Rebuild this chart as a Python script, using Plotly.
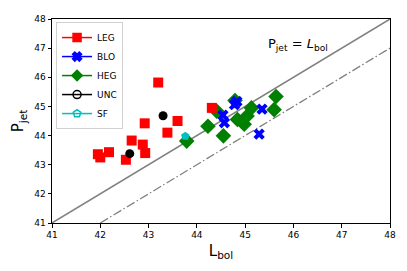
import plotly.graph_objects as go

leg_x = [43.20, 43.60, 42.92, 43.39, 42.65, 42.88, 42.18, 42.93, 41.95, 42.00, 42.53, 44.31]
leg_y = [45.82, 44.50, 44.42, 44.10, 43.83, 43.69, 43.43, 43.40, 43.36, 43.25, 43.17, 44.95]

blo_x = [44.83, 44.78, 45.35, 44.54, 44.57, 45.29]
blo_y = [45.17, 45.06, 44.91, 44.70, 44.44, 44.05]

heg_x = [43.79, 45.64, 44.79, 45.13, 45.60, 45.04, 44.84, 44.98, 44.23, 44.55, 44.41]
heg_y = [43.81, 45.34, 45.20, 44.95, 44.89, 44.67, 44.55, 44.39, 44.32, 43.99, 44.84]

unc_x = [43.30, 42.61]
unc_y = [44.68, 43.38]

sf_x = [43.76]
sf_y = [43.98]

line_x = [41, 48]
eq_y = [41, 48]
off_x = [42, 48]
off_y = [41, 47]

fig = go.Figure()
fig.add_trace(go.Scatter(x=line_x, y=eq_y, mode="lines", line=dict(color="#808080", width=1.5), showlegend=False, hoverinfo="skip"))
fig.add_trace(go.Scatter(x=off_x, y=off_y, mode="lines", line=dict(color="#808080", width=1.3, dash="9px,2.5px,1.5px,2.5px"), showlegend=False, hoverinfo="skip"))

series = {
    "LEG": (leg_x, leg_y, "red", "square", 10, "square"),
    "BLO": (blo_x, blo_y, "blue", "x", 10, "x"),
    "HEG": (heg_x, heg_y, "green", "diamond", 12, "diamond"),
    "UNC": (unc_x, unc_y, "black", "circle", 9, "circle-open"),
    "SF": (sf_x, sf_y, "#00BFBF", "pentagon", 9, "pentagon-open"),
}
draw_order = ["HEG", "BLO", "LEG", "UNC", "SF"]
legend_order = ["LEG", "BLO", "HEG", "UNC", "SF"]
for name in draw_order:
    xs, ys, col, sym, sz, lsym = series[name]
    fig.add_trace(go.Scatter(x=xs, y=ys, mode="markers", name=name,
                             marker=dict(color=col, symbol=sym, size=sz, line=dict(width=0)),
                             showlegend=False))
for name in legend_order:
    xs, ys, col, sym, sz, lsym = series[name]
    fig.add_trace(go.Scatter(x=[None], y=[None], mode="lines+markers", name=name,
                             line=dict(color=col, width=1.5),
                             marker=dict(color=col, symbol=lsym, size=8, line=dict(width=1.5, color=col))))

fig.add_annotation(x=46.10, y=47.13, xref="x", yref="y",
                   text="P<sub>jet</sub> = <i>L</i><sub>bol</sub>", showarrow=False,
                   font=dict(size=13, color="black", family="DejaVu Sans"))

axis_common = dict(range=[41, 48], dtick=1, ticks="outside", ticklen=3.5, tickwidth=1,
                   tickcolor="black", showgrid=False, zeroline=False,
                   tickfont=dict(size=9, family="DejaVu Sans", color="black"),
                   showline=True, linecolor="black", linewidth=1, mirror=True)
fig.update_xaxes(**axis_common, title=dict(text="L<sub>bol</sub>", font=dict(size=15, family="DejaVu Sans", color="black"), standoff=6))
fig.update_yaxes(**axis_common, title=dict(text="P<sub>jet</sub>", font=dict(size=15, family="DejaVu Sans", color="black"), standoff=6))

fig.update_layout(width=399, height=263, margin=dict(l=44, r=17, t=6, b=48),
                  plot_bgcolor="white", paper_bgcolor="white",
                  font=dict(family="DejaVu Sans"),
                  legend=dict(x=0.012, y=0.985, xanchor="left", yanchor="top",
                              bgcolor="white", bordercolor="#d0d0d0", borderwidth=1,
                              font=dict(size=9, color="black"), tracegroupgap=0,
                              itemwidth=30))
fig.write_html("out.html")
